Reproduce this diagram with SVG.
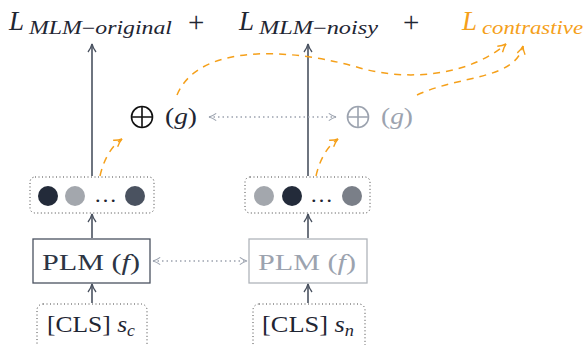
<svg xmlns="http://www.w3.org/2000/svg" width="586" height="345" viewBox="0 0 586 345">
<defs>
<marker id="ahd" viewBox="0 0 10 10" refX="9" refY="5" markerWidth="10" markerHeight="10" markerUnits="userSpaceOnUse" orient="auto-start-reverse">
<path d="M1,1 Q5,4 9,5 Q5,6 1,9" fill="none" stroke="#4a5260" stroke-width="1.3"/>
</marker>
<marker id="ahg" viewBox="0 0 10 10" refX="9" refY="5" markerWidth="9" markerHeight="9" markerUnits="userSpaceOnUse" orient="auto-start-reverse">
<path d="M1,1 Q5,4 9,5 Q5,6 1,9" fill="none" stroke="#9ca3af" stroke-width="1.2"/>
</marker>
<marker id="aho" viewBox="0 0 10 10" refX="9" refY="5" markerWidth="10" markerHeight="10" markerUnits="userSpaceOnUse" orient="auto">
<path d="M1,1 Q5,4 9,5 Q5,6 1,9" fill="none" stroke="#f5a01a" stroke-width="1.4"/>
</marker>
</defs>
<style>
text{font-family:"Liberation Serif","DejaVu Serif","Times New Roman",serif;}
.m{font-style:italic;}
.dk{fill:#1f2633;}
.gr{fill:#9ca3af;}
.or{fill:#f5a01a;}
.arr{stroke:#4a5260;stroke-width:1.6;fill:none;marker-end:url(#ahd);}
.dot{stroke:#9ca3af;stroke-width:1.3;stroke-dasharray:1.5 3;fill:none;marker-start:url(#ahg);marker-end:url(#ahg);}
.box{fill:none;stroke:#444;stroke-width:1;stroke-dasharray:1 2.5;}
.odash{stroke:#f5a01a;stroke-width:1.5;stroke-dasharray:7 6;fill:none;marker-end:url(#aho);}
</style>

<g id="loss-original">
<text x="9" y="30" class="m dk" font-size="27">L</text>
<text x="29" y="34" class="m dk" font-size="18" textLength="143" lengthAdjust="spacingAndGlyphs">MLM<tspan font-style="normal">−</tspan>original</text>
</g>
<g id="plus1"><text x="188" y="32" class="dk" font-size="29">+</text></g>
<g id="loss-noisy">
<text x="239" y="30" class="m dk" font-size="27">L</text>
<text x="259" y="34" class="m dk" font-size="18" textLength="119" lengthAdjust="spacingAndGlyphs">MLM<tspan font-style="normal">−</tspan>noisy</text>
</g>
<g id="plus2"><text x="403" y="32" class="dk" font-size="29">+</text></g>
<g id="loss-contrastive">
<text x="462" y="30" class="m or" font-size="27">L</text>
<text x="482" y="34" class="m or" font-size="18" textLength="101" lengthAdjust="spacingAndGlyphs">contrastive</text>
</g>

<g id="g-left">
<circle cx="142" cy="117" r="10.5" fill="none" stroke="#111" stroke-width="1.6"/>
<path d="M131.5,117 H152.5 M142,106.5 V127.5" stroke="#111" stroke-width="1.6"/>
<text x="165" y="124" class="dk" font-size="23" textLength="32" lengthAdjust="spacingAndGlyphs">(<tspan class="m">g</tspan>)</text>
</g>
<g id="g-right">
<circle cx="358" cy="117" r="10.5" fill="none" stroke="#9ca3af" stroke-width="1.6"/>
<path d="M347.5,117 H368.5 M358,106.5 V127.5" stroke="#9ca3af" stroke-width="1.6"/>
<text x="381" y="124" class="gr" font-size="23" textLength="32" lengthAdjust="spacingAndGlyphs">(<tspan class="m">g</tspan>)</text>
</g>

<g id="emb-left">
<rect x="30" y="177" width="124" height="36" rx="5" class="box"/>
<circle cx="48" cy="196" r="10" fill="#232b3a"/>
<circle cx="75" cy="196" r="10" fill="#a3a7ad"/>
<text x="94" y="202" class="dk" font-size="20" textLength="23" lengthAdjust="spacingAndGlyphs">…</text>
<circle cx="135" cy="196" r="10" fill="#4a5260"/>
</g>
<g id="emb-right">
<rect x="245" y="177" width="125" height="36" rx="5" class="box"/>
<circle cx="264" cy="196" r="10" fill="#a3a7ad"/>
<circle cx="292" cy="196" r="10" fill="#232b3a"/>
<text x="310" y="202" class="dk" font-size="20" textLength="23" lengthAdjust="spacingAndGlyphs">…</text>
<circle cx="352" cy="196" r="10" fill="#7a7f88"/>
</g>

<g id="plm-left">
<rect x="33" y="239" width="117" height="44" fill="none" stroke="#4a5260" stroke-width="1.3"/>
<text x="42" y="270" fill="#2d3544" font-size="23" textLength="98" lengthAdjust="spacingAndGlyphs">PLM (<tspan class="m">f</tspan>)</text>
</g>
<g id="plm-right">
<rect x="249" y="239" width="118" height="44" fill="none" stroke="#b0b4ba" stroke-width="1.3"/>
<text x="258" y="270" class="gr" font-size="23" textLength="98" lengthAdjust="spacingAndGlyphs">PLM (<tspan class="m">f</tspan>)</text>
</g>

<g id="cls-left">
<rect x="37" y="304" width="110" height="50" rx="6" class="box"/>
<text x="47" y="332" class="dk" font-size="23" textLength="88" lengthAdjust="spacingAndGlyphs">[CLS] <tspan class="m">s</tspan><tspan class="m" font-size="16" dy="4">c</tspan></text>
</g>
<g id="cls-right">
<rect x="253" y="304" width="112" height="50" rx="6" class="box"/>
<text x="262" y="332" class="dk" font-size="23" textLength="92" lengthAdjust="spacingAndGlyphs">[CLS] <tspan class="m">s</tspan><tspan class="m" font-size="16" dy="4">n</tspan></text>
</g>

<g id="connectors">
<path d="M92,303 V284" class="arr"/>
<path d="M308,303 V284" class="arr"/>
<path d="M92,238 V214" class="arr"/>
<path d="M308,238 V214" class="arr"/>
<path d="M92,176 V44" class="arr"/>
<path d="M308,176 V44" class="arr"/>
<path d="M209,117 H336" class="dot"/>
<path d="M153,261 H247" class="dot"/>
<path d="M100,176 Q106,150 122,139" class="odash"/>
<path d="M316,176 Q322,150 338,139" class="odash"/>
<path d="M177,95 C200,40 300,50 360,68 C410,82 470,75 506,44" class="odash"/>
<path d="M417,95 C460,75 515,80 523,46" class="odash"/>
</g>
</svg>
